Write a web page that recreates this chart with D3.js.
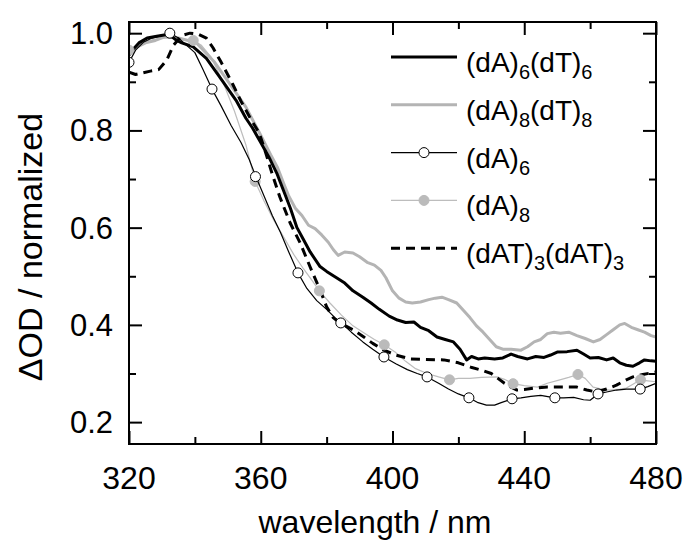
<!DOCTYPE html>
<html>
<head>
<meta charset="utf-8">
<script src="https://cdn.jsdelivr.net/npm/d3@7/dist/d3.min.js"></script>
<style>
  body { margin: 0; background: #fff; }
  text { font-family: "Liberation Sans", Arial, sans-serif; }
</style>
</head>
<body>
<div id="chart"></div>
<script>
// tamaño de la figura
const width = 688;
const height = 540;
const margin = { top: 22, right: 32, bottom: 96, left: 129 };

// ticks
const xTicks = [320, 360, 400, 440, 480];
const xMinor = [340, 380, 420, 460];
const yTicks = [0.2, 0.4, 0.6, 0.8, 1.0];
const yMinor = [0.3, 0.5, 0.7, 0.9];

// (dA)6(dT)6 - negro grueso
const dA6dT6 = [[320,0.955],[321,0.965],[323,0.98],[325.5,0.99],[328,0.993],[332,0.998],[334.5,0.985],[336,0.98],[339.5,0.972],[343.5,0.948],[347.5,0.91],[352.5,0.862],[355.5,0.825],[357.5,0.805],[360,0.775],[362.5,0.745],[365,0.71],[367,0.675],[369,0.64],[371,0.6],[373,0.575],[375,0.55],[378,0.52],[380,0.51],[383,0.497],[385.5,0.486],[388,0.47],[391,0.457],[393.5,0.445],[396,0.432],[399,0.418],[401.5,0.41],[404,0.405],[406.5,0.406],[408.5,0.395],[411,0.388],[413.5,0.375],[416,0.37],[418.5,0.365],[420.5,0.35],[422.5,0.328],[424,0.335],[426,0.33],[428,0.332],[431,0.33],[433.5,0.332],[436,0.34],[438,0.335],[441,0.33],[443.5,0.335],[446,0.333],[448,0.338],[450,0.344],[453,0.345],[456,0.348],[458,0.34],[460,0.332],[462.5,0.333],[465,0.328],[467,0.332],[469,0.322],[471,0.317],[473,0.315],[475,0.322],[476.5,0.328],[478.5,0.326],[480,0.325]];

// (dA)8(dT)8 - gris grueso
const dA8dT8 = [[320,0.955],[322,0.97],[325,0.98],[328,0.985],[331,0.993],[335,0.99],[338,0.985],[340.5,0.98],[343,0.962],[346,0.94],[350.5,0.897],[355.5,0.848],[360,0.79],[363,0.75],[365,0.725],[367,0.69],[368.5,0.665],[370.5,0.64],[372.5,0.625],[374.5,0.605],[376.5,0.598],[378.5,0.585],[380.5,0.57],[382,0.555],[383.5,0.543],[385.5,0.55],[388,0.548],[390,0.54],[392.5,0.528],[394.5,0.523],[396.5,0.512],[398,0.497],[400,0.47],[402,0.455],[404,0.447],[406,0.445],[408.5,0.447],[411,0.452],[413,0.455],[415,0.457],[417,0.452],[419.5,0.445],[421.5,0.43],[423.5,0.415],[425.5,0.398],[427.5,0.385],[429.5,0.37],[431.5,0.355],[433.5,0.35],[436,0.35],[439,0.348],[441,0.355],[443,0.365],[445,0.37],[447,0.382],[449,0.385],[451,0.383],[453.5,0.385],[456,0.378],[458.5,0.372],[461,0.365],[463,0.37],[465,0.38],[467,0.39],[469,0.4],[470.5,0.403],[472.5,0.395],[474.5,0.39],[476.5,0.385],[478.5,0.378],[480,0.375]];

// (dA)6 - negro fino con círculos abiertos
const dA6 = [[320,0.94],[322,0.965],[324.5,0.982],[327,0.99],[330,0.995],[332.5,1.0],[335,0.99],[337.5,0.975],[340,0.96],[342.5,0.925],[345.2,0.885],[348,0.85],[351,0.81],[354,0.775],[356.5,0.74],[358.5,0.705],[361,0.665],[363.5,0.625],[366,0.59],[368.5,0.55],[371.3,0.507],[374,0.475],[377,0.45],[380,0.432],[382.5,0.415],[384.5,0.404],[387.5,0.385],[391,0.365],[394,0.35],[397.4,0.334],[401,0.32],[404.5,0.308],[407.5,0.3],[410.5,0.293],[414,0.28],[417,0.268],[420,0.258],[423.2,0.25],[426,0.24],[428.5,0.235],[431,0.235],[433,0.24],[436.3,0.248],[439,0.25],[442,0.253],[445,0.255],[449.3,0.25],[452,0.25],[455,0.251],[458,0.246],[460,0.245],[462.4,0.258],[465,0.262],[468,0.266],[471,0.268],[475.2,0.268],[477.5,0.273],[480,0.28]];
const dA6Marks = [[320,0.94],[332.4,1.0],[345.2,0.885],[358.4,0.705],[371.3,0.507],[384.3,0.404],[397.4,0.334],[410.5,0.293],[423.2,0.25],[436.3,0.248],[449.3,0.25],[462.4,0.258],[475.2,0.268]];

// (dA)8 - gris fino con círculos llenos
const dA8 = [[320,0.96],[322.5,0.975],[326,0.985],[330,0.99],[334,0.99],[337,0.985],[339.5,0.985],[342,0.975],[345,0.95],[348.5,0.9],[352,0.84],[355.5,0.77],[358.3,0.695],[361,0.655],[364,0.615],[367,0.58],[370,0.545],[373,0.515],[375.5,0.492],[377.8,0.47],[381,0.445],[384.5,0.42],[388,0.398],[391.5,0.383],[394.5,0.37],[397.5,0.359],[401,0.343],[404,0.325],[407,0.31],[410.5,0.3],[414,0.293],[417.3,0.287],[420,0.29],[423.5,0.29],[427,0.292],[431.7,0.293],[434,0.288],[436.6,0.279],[440,0.275],[444,0.272],[447,0.28],[450.8,0.287],[453.5,0.292],[456.3,0.298],[458.5,0.29],[460.9,0.272],[463.5,0.268],[466,0.266],[469,0.268],[471,0.27],[473,0.278],[475.3,0.287],[477.5,0.285],[480,0.283]];
const dA8Marks = [[320,0.965],[339.5,0.985],[358.3,0.695],[377.8,0.47],[397.5,0.359],[417.3,0.287],[436.6,0.279],[456.3,0.298],[475.3,0.287]];

// (dAT)3(dAT)3 - negro discontinuo
const dAT3 = [[320,0.92],[322,0.915],[324,0.918],[326.5,0.922],[329,0.925],[331.5,0.945],[333.5,0.975],[336,0.995],[338.5,1.0],[341,0.998],[343.5,0.99],[345.5,0.97],[348,0.94],[351.5,0.895],[354,0.86],[357,0.823],[359.5,0.795],[361,0.765],[363.5,0.71],[365.8,0.663],[368.9,0.61],[372,0.568],[375,0.519],[378,0.472],[380,0.437],[382,0.415],[384,0.404],[388,0.39],[391.3,0.375],[394,0.362],[397.4,0.348],[401,0.338],[405.6,0.33],[410,0.329],[415.6,0.328],[420,0.322],[423.8,0.313],[427,0.307],[430,0.3],[432,0.29],[434,0.28],[436,0.272],[437.8,0.266],[440,0.267],[443,0.27],[447,0.272],[450,0.272],[453,0.272],[456,0.272],[459,0.266],[462,0.262],[465,0.268],[468,0.276],[471,0.287],[473,0.293],[476,0.298],[480,0.303]];

// leyenda
const legendLabels = [
  [["(dA)", 0], ["6", 1], ["(dT)", 0], ["6", 1]],
  [["(dA)", 0], ["8", 1], ["(dT)", 0], ["8", 1]],
  [["(dA)", 0], ["6", 1]],
  [["(dA)", 0], ["8", 1]],
  [["(dAT)", 0], ["3", 1], ["(dAT)", 0], ["3", 1]]
];

const GRAY = "#b4b4b4";
const styles = [
  { stroke: "#000", width: 3, dash: null, marker: null },
  { stroke: GRAY, width: 3, dash: null, marker: null },
  { stroke: "#000", width: 1.2, dash: null, marker: "open" },
  { stroke: "#bdbdbd", width: 1.2, dash: null, marker: "gray" },
  { stroke: "#000", width: 3, dash: "9,6", marker: null }
];

const svg = d3.select("#chart").append("svg")
  .attr("width", width)
  .attr("height", height);

const x = d3.scaleLinear().domain([320, 480]).range([margin.left, width - margin.right]);
const y = d3.scaleLinear().domain([0.155, 1.023]).range([height - margin.bottom, margin.top]);

svg.append("clipPath").attr("id", "clip")
  .append("rect")
  .attr("x", margin.left).attr("y", margin.top)
  .attr("width", width - margin.left - margin.right)
  .attr("height", height - margin.top - margin.bottom);

const line = d3.line().x(d => x(d[0])).y(d => y(d[1]));
const plot = svg.append("g").attr("clip-path", "url(#clip)");

function drawLine(data, st) {
  plot.append("path")
    .datum(data)
    .attr("fill", "none")
    .attr("stroke", st.stroke)
    .attr("stroke-width", st.width)
    .attr("stroke-dasharray", st.dash)
    .attr("stroke-linejoin", "round")
    .attr("d", line);
}

function drawMarks(data, kind) {
  plot.selectAll(null)
    .data(data)
    .enter()
    .append("circle")
    .attr("cx", d => x(d[0]))
    .attr("cy", d => y(d[1]))
    .attr("r", 5)
    .attr("fill", kind === "open" ? "#fff" : "#bbb")
    .attr("stroke", kind === "open" ? "#000" : "#bbb")
    .attr("stroke-width", 1);
}

drawLine(dA8, styles[3]);
drawLine(dA8dT8, styles[1]);
drawLine(dA6dT6, styles[0]);
drawLine(dAT3, styles[4]);
drawMarks(dA8Marks, "gray");
drawLine(dA6, styles[2]);
drawMarks(dA6Marks, "open");

// ejes con ticks hacia adentro
const L = 13, Lm = 7;
const axes = svg.append("g");
axes.append("g").attr("transform", `translate(0,${y.range()[0]})`)
  .call(d3.axisBottom(x).tickValues(xTicks).tickSize(-L).tickFormat(""));
axes.append("g").attr("transform", `translate(0,${y.range()[0]})`)
  .call(d3.axisBottom(x).tickValues(xMinor).tickSize(-Lm).tickFormat(""));
axes.append("g").attr("transform", `translate(0,${y.range()[1]})`)
  .call(d3.axisTop(x).tickValues(xTicks).tickSize(-L).tickFormat(""));
axes.append("g").attr("transform", `translate(0,${y.range()[1]})`)
  .call(d3.axisTop(x).tickValues(xMinor).tickSize(-Lm).tickFormat(""));
axes.append("g").attr("transform", `translate(${x.range()[0]},0)`)
  .call(d3.axisLeft(y).tickValues(yTicks).tickSize(-L).tickFormat(""));
axes.append("g").attr("transform", `translate(${x.range()[0]},0)`)
  .call(d3.axisLeft(y).tickValues(yMinor).tickSize(-Lm).tickFormat(""));
axes.append("g").attr("transform", `translate(${x.range()[1]},0)`)
  .call(d3.axisRight(y).tickValues(yTicks).tickSize(-L).tickFormat(""));
axes.append("g").attr("transform", `translate(${x.range()[1]},0)`)
  .call(d3.axisRight(y).tickValues(yMinor).tickSize(-Lm).tickFormat(""));
axes.selectAll(".domain").remove();
axes.selectAll("line").attr("stroke", "#000").attr("stroke-width", 2);

svg.append("rect")
  .attr("x", x.range()[0]).attr("y", y.range()[1])
  .attr("width", x.range()[1] - x.range()[0])
  .attr("height", y.range()[0] - y.range()[1])
  .attr("fill", "none").attr("stroke", "#000").attr("stroke-width", 2);

// etiquetas de los ticks
svg.selectAll(null).data(xTicks).enter().append("text")
  .attr("x", d => x(d)).attr("y", 489)
  .attr("text-anchor", "middle")
  .attr("font-size", 32)
  .text(d => d);

svg.selectAll(null).data(yTicks).enter().append("text")
  .attr("x", 113).attr("y", d => y(d) + 11)
  .attr("text-anchor", "end")
  .attr("font-size", 31)
  .text(d => d.toFixed(1));

// títulos de los ejes
svg.append("text")
  .attr("x", 375).attr("y", 533)
  .attr("text-anchor", "middle")
  .attr("font-size", 32)
  .text("wavelength / nm");

svg.append("text")
  .attr("transform", "translate(42,247) rotate(-90)")
  .attr("text-anchor", "middle")
  .attr("font-size", 34)
  .text("\u0394OD / normalized");

// leyenda
const legend = svg.append("g");
legendLabels.forEach((parts, i) => {
  const st = styles[i];
  const ly = 57 + i * 47.8;
  legend.append("line")
    .attr("x1", 391).attr("x2", 457)
    .attr("y1", ly).attr("y2", ly)
    .attr("stroke", st.stroke)
    .attr("stroke-width", st.width)
    .attr("stroke-dasharray", st.dash);
  if (st.marker) {
    legend.append("circle")
      .attr("cx", 424).attr("cy", ly).attr("r", 5)
      .attr("fill", st.marker === "open" ? "#fff" : "#bbb")
      .attr("stroke", st.marker === "open" ? "#000" : "#bbb")
      .attr("stroke-width", 1);
  }
  const t = legend.append("text")
    .attr("x", 466).attr("y", ly + 15)
    .attr("font-size", 28);
  let sub = false;
  parts.forEach(p => {
    const isSub = p[1] === 1;
    const ts = t.append("tspan").text(p[0]);
    if (isSub) ts.attr("font-size", 20);
    if (isSub !== sub) ts.attr("dy", isSub ? 7 : -7);
    sub = isSub;
  });
});
</script>
</body>
</html>
